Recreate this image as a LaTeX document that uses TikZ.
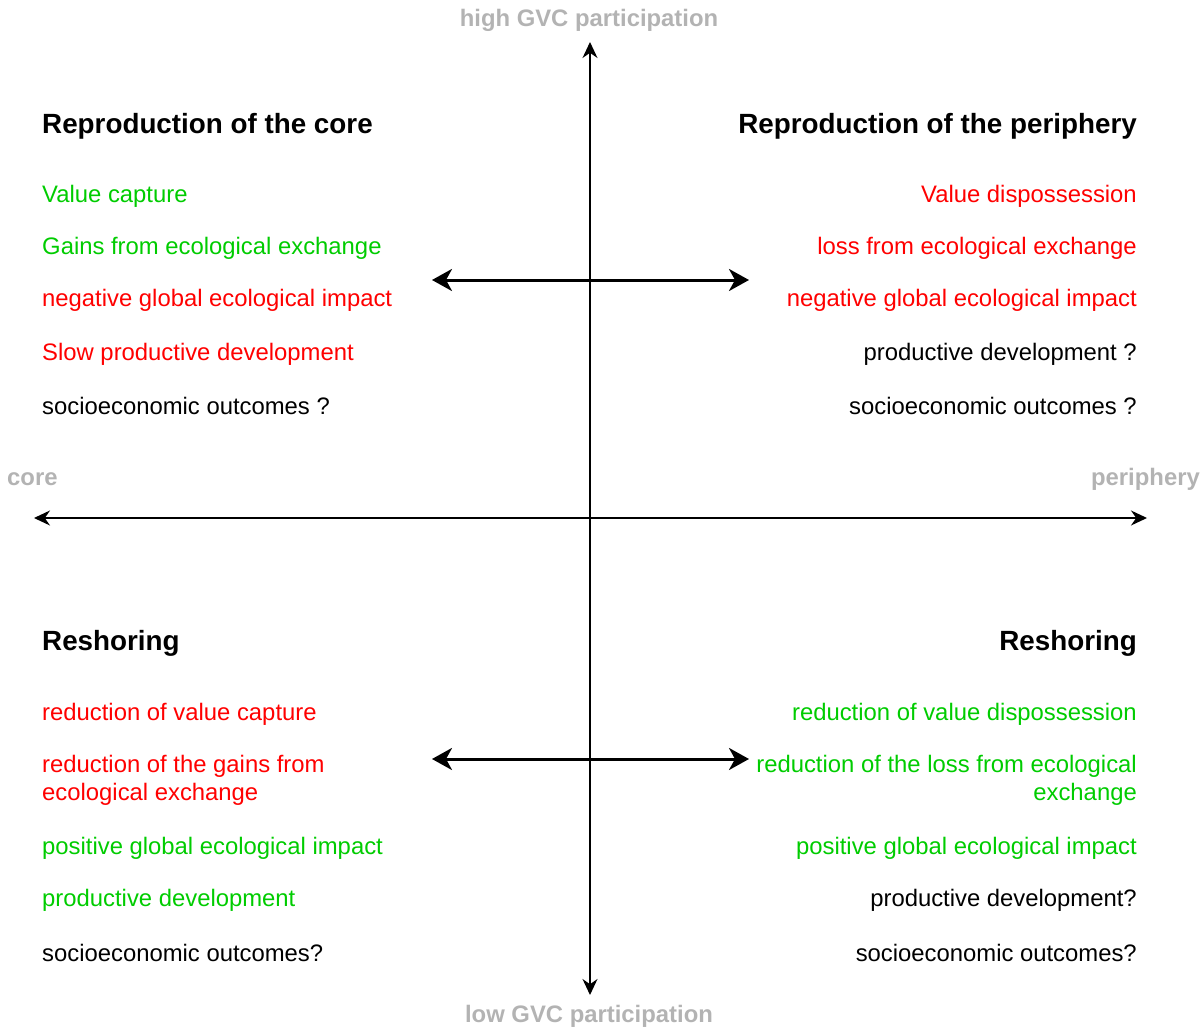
\documentclass[tikz,border=0pt]{standalone}
\usepackage{fontspec}
\setmainfont{Liberation Sans}
\usetikzlibrary{positioning, arrows.meta}
\definecolor{grn}{HTML}{00CC00}
\definecolor{rd}{HTML}{FF0000}
\definecolor{gry}{HTML}{B3B3B3}
\newcommand{\txt}{\fontsize{23.85pt}{28pt}\selectfont}
\newcommand{\ttl}{\fontsize{27.8pt}{31pt}\selectfont\bfseries}

\begin{document}
\begin{tikzpicture}[x=1pt, y=-1pt, every node/.style={inner sep=0pt, font=\txt},
    lft/.style={anchor=west, align=left}, rgt/.style={anchor=east, align=right},
    axislbl/.style={text=gry, font=\txt\bfseries}]
            \useasboundingbox (0,0) rectangle (1203,1030);
            % axes
            \node[axislbl] (hi) at (589,20) {high GVC participation};
            \node[axislbl] (lo) at (589,1016) {low GVC participation};
            \node[axislbl, anchor=west] (core) at (7,479) {core};
            \node[axislbl, anchor=east] (peri) at (1200,479) {periphery};
            \coordinate (top) at (590,42);
            \coordinate (bot) at (590,995);
            \coordinate (west) at (34,518);
            \coordinate (east) at (1147,518);
            \draw[line width=1.5pt, Stealth-Stealth, arrows={[length=16pt, width=15pt]}] (bot) -- (top);
            \draw[line width=1.5pt, Stealth-Stealth, arrows={[length=16pt, width=15pt]}] (west) -- (east);
            % upper left
            \node[lft, font=\ttl] (A) at (42,126) {Reproduction of the core};
            \node[lft, text=grn] (A1) at (42,196) {Value capture};
            \node[lft, text=grn] (A2) at (42,248) {Gains from ecological exchange};
            \node[lft, text=rd] (A3) at (42,300) {negative global ecological impact};
            \node[lft, text=rd] (A4) at (42,354) {Slow productive development};
            \node[lft] (A5) at (42,406) {socioeconomic outcomes ?};
            % upper right
            \node[rgt, font=\ttl] (B) at (1137,126) {Reproduction of the periphery};
            \node[rgt, text=rd] (B1) at (1137,196) {Value dispossession};
            \node[rgt, text=rd] (B2) at (1137,248) {loss from ecological exchange};
            \node[rgt, text=rd] (B3) at (1137,300) {negative global ecological impact};
            \node[rgt] (B4) at (1137,354) {productive development ?};
            \node[rgt] (B5) at (1137,406) {socioeconomic outcomes ?};
            % lower left
            \node[lft, font=\ttl] (C) at (42,643) {Reshoring};
            \node[lft, text=rd] (C1) at (42,714) {reduction of value capture};
            \node[lft, text=rd] (C2) at (42,780) {reduction of the gains from\\ecological exchange};
            \node[lft, text=grn] (C3) at (42,848) {positive global ecological impact};
            \node[lft, text=grn] (C4) at (42,900) {productive development};
            \node[lft] (C5) at (42,953) {socioeconomic outcomes?};
            % lower right
            \node[rgt, font=\ttl] (D) at (1137,643) {Reshoring};
            \node[rgt, text=grn] (D1) at (1137,714) {reduction of value dispossession};
            \node[rgt, text=grn] (D2) at (1137,780) {reduction of the loss from ecological\\exchange};
            \node[rgt, text=grn] (D3) at (1137,848) {positive global ecological impact};
            \node[rgt] (D4) at (1137,900) {productive development?};
            \node[rgt] (D5) at (1137,953) {socioeconomic outcomes?};
            % double arrows
            \coordinate (u1) at (432,280);
            \coordinate (u2) at (749,280);
            \coordinate (l1) at (432,759);
            \coordinate (l2) at (749,759);
            \draw[line width=3pt, Stealth-Stealth, arrows={[length=20pt, width=22pt, inset=6pt]}] (u1) -- (u2);
            \draw[line width=3pt, Stealth-Stealth, arrows={[length=20pt, width=22pt, inset=6pt]}] (l1) -- (l2);
        \end{tikzpicture}
\end{document}
